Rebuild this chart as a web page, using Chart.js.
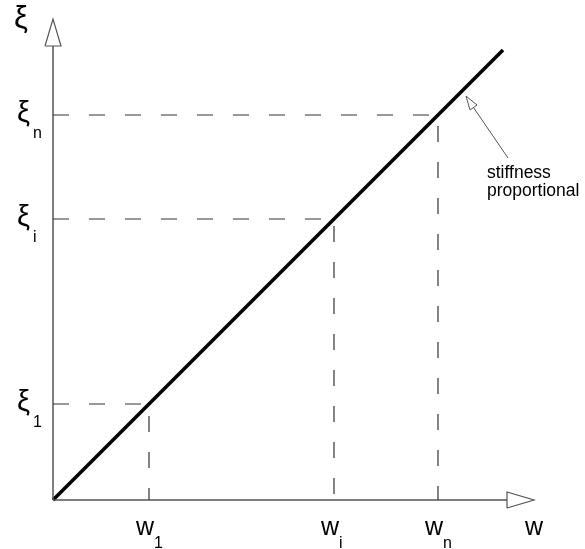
<!DOCTYPE html>
<html>
<head>
<meta charset="utf-8">
<script src="https://cdn.jsdelivr.net/npm/chart.js@4/dist/chart.umd.min.js"></script>
<style>
  html, body { margin: 0; padding: 0; background: #fff; }
  canvas { display: block; }
</style>
</head>
<body>
<canvas id="chart" width="585" height="549"></canvas>
<script>
// values (same units on both axes)
const wValues = [96, 281, 385];
const xiValues = [96, 281, 385];
const subscripts = ['1', 'i', 'n'];
const lineEnd = [450, 450];
const axisEnd = 454;
const arrowTip = 481;
const arrowHalf = 8;
const noteTip = [413, 404];
const noteHead = [[417, 390], [424, 395]];
const noteTail = [455, 342];
const noteLines = ['stiffness', 'proportional'];

const pt = (x, y) => ({ x, y });

function lineSet(data, color, width, dash) {
  return {
    data, showLine: true, pointRadius: 0, borderColor: color,
    borderWidth: width, borderDash: dash || [], fill: false, clip: false,
    tension: 0
  };
}

const datasets = [];

// dashed guides
for (let i = 0; i < wValues.length; i++) {
  datasets.push(lineSet([pt(0, xiValues[i]), pt(wValues[i], xiValues[i]), pt(wValues[i], 0)], '#333', 1.2, [16, 20]));
}

// axes with open arrow heads
datasets.push(lineSet([pt(0, 0), pt(axisEnd, 0)], '#555', 1.5));
datasets.push(lineSet([pt(axisEnd, -arrowHalf), pt(arrowTip, 0), pt(axisEnd, arrowHalf), pt(axisEnd, -arrowHalf)], '#555', 1.2));
datasets.push(lineSet([pt(0, 0), pt(0, axisEnd)], '#555', 1.5));
datasets.push(lineSet([pt(-arrowHalf, axisEnd), pt(0, arrowTip), pt(arrowHalf, axisEnd), pt(-arrowHalf, axisEnd)], '#555', 1.2));

// main relation
datasets.push(lineSet([pt(0, 0), pt(lineEnd[0], lineEnd[1])], '#000', 3.5));

// annotation arrow
const headMid = [(noteHead[0][0] + noteHead[1][0]) / 2, (noteHead[0][1] + noteHead[1][1]) / 2];
datasets.push(lineSet([pt(noteTip[0], noteTip[1]), pt(noteHead[0][0], noteHead[0][1]), pt(noteHead[1][0], noteHead[1][1]), pt(noteTip[0], noteTip[1])], '#555', 1));
datasets.push(lineSet([pt(headMid[0], headMid[1]), pt(noteTail[0], noteTail[1])], '#555', 1));

const FONT = '"Liberation Sans", Arial, sans-serif';

// text labels drawn against the scales
const labelPlugin = {
  id: 'labels',
  afterDraw(chart) {
    const ctx = chart.ctx;
    const xs = chart.scales.x, ys = chart.scales.y;
    const x0 = xs.getPixelForValue(0), y0 = ys.getPixelForValue(0);
    ctx.save();
    ctx.fillStyle = '#000';
    ctx.textBaseline = 'alphabetic';

    // xi ticks
    for (let i = 0; i < xiValues.length; i++) {
      const y = ys.getPixelForValue(xiValues[i]);
      ctx.font = '29px ' + FONT;
      ctx.textAlign = 'left';
      ctx.fillText('ξ', x0 - 36, y + 7);
      ctx.font = '16px ' + FONT;
      ctx.fillText(subscripts[i], x0 - 20, y + 23);
    }
    // w ticks
    for (let i = 0; i < wValues.length; i++) {
      const x = xs.getPixelForValue(wValues[i]);
      ctx.font = '25px ' + FONT;
      ctx.textAlign = 'center';
      ctx.fillText('w', x - 4, y0 + 35);
      ctx.font = '16px ' + FONT;
      ctx.textAlign = 'left';
      ctx.fillText(subscripts[i], x + 5, y0 + 48);
    }
    // axis titles
    ctx.font = '25px ' + FONT;
    ctx.textAlign = 'center';
    ctx.fillText('w', xs.getPixelForValue(arrowTip), y0 + 35);
    ctx.font = '31px ' + FONT;
    ctx.textAlign = 'left';
    ctx.fillText('ξ', x0 - 39, ys.getPixelForValue(arrowTip) + 9);

    // note
    ctx.font = '17.5px ' + FONT;
    ctx.textAlign = 'left';
    const tx = xs.getPixelForValue(noteTail[0]) - 21;
    const ty = ys.getPixelForValue(noteTail[1]);
    noteLines.forEach((s, k) => ctx.fillText(s, tx, ty + 20 + k * 18));
    ctx.restore();
  }
};

new Chart(document.getElementById('chart'), {
  type: 'scatter',
  data: { datasets },
  options: {
    responsive: false,
    animation: false,
    layout: { padding: { left: 53, right: 32, top: 0, bottom: 49 } },
    scales: {
      x: { type: 'linear', min: 0, max: 500, display: false },
      y: { type: 'linear', min: 0, max: 500, display: false }
    },
    plugins: { legend: { display: false }, tooltip: { enabled: false } }
  },
  plugins: [labelPlugin]
});
</script>
</body>
</html>
